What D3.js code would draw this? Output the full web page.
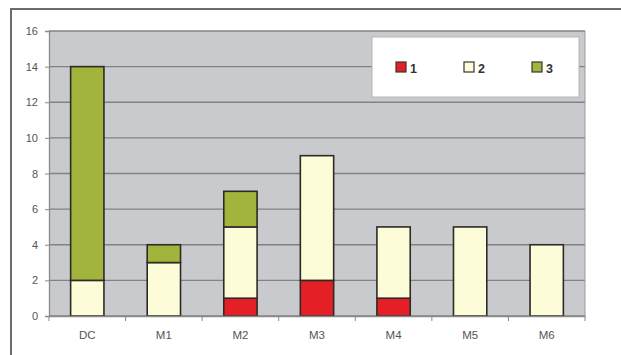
<!DOCTYPE html>
<html>
<head>
<meta charset="utf-8">
<script src="https://cdn.jsdelivr.net/npm/d3@7"></script>
<style>
  body { margin: 0; background: #fff; }
  text { font-family: "Liberation Sans", Arial, sans-serif; }
</style>
</head>
<body>
<div id="chart"></div>
<script>
var categories = ["DC", "M1", "M2", "M3", "M4", "M5", "M6"];
var seriesNames = ["1", "2", "3"];
var series1 = [0, 0, 1, 2, 1, 0, 0];
var series2 = [2, 3, 4, 7, 4, 5, 4];
var series3 = [12, 1, 2, 0, 0, 0, 0];
var yTicks = [0, 2, 4, 6, 8, 10, 12, 14, 16];
var colors = ["#e41f26", "#fdfcd8", "#a3b43c"];

var svgWidth = 621;
var svgHeight = 355;
var margin = {top: 31, right: 36, bottom: 39, left: 49};
var width = svgWidth - margin.left - margin.right;
var height = svgHeight - margin.top - margin.bottom;

var svg = d3.select("#chart")
    .append("svg")
    .attr("width", svgWidth)
    .attr("height", svgHeight);

// outer chart frame (runs off the picture on right and bottom)
svg.append("rect")
    .attr("x", 11)
    .attr("y", 9)
    .attr("width", 640)
    .attr("height", 360)
    .attr("fill", "#fff")
    .attr("stroke", "#6b6b6b")
    .attr("stroke-width", 2);

var chartGroup = svg.append("g")
    .attr("transform", `translate(${margin.left}, ${margin.top})`);

// build rows for the stack
var rows = categories.map(function(c, i) {
    return {cat: c, "1": series1[i], "2": series2[i], "3": series3[i]};
});
var stacked = d3.stack().keys(seriesNames)(rows);

var xScale = d3.scaleBand()
    .domain(categories)
    .range([0, width])
    .paddingInner(0.565)
    .paddingOuter(0.2825);

var yScale = d3.scaleLinear()
    .domain([0, 16])
    .range([height, 0]);

// plot background
chartGroup.append("rect")
    .attr("width", width)
    .attr("height", height)
    .attr("fill", "#c8cacd");

// gridlines
chartGroup.append("g")
    .selectAll("line")
    .data(yTicks)
    .enter()
    .append("line")
    .attr("x1", 0)
    .attr("x2", width)
    .attr("y1", d => yScale(d))
    .attr("y2", d => yScale(d))
    .attr("stroke", "#828282")
    .attr("stroke-width", 1.3);

// right edge of plot area
chartGroup.append("line")
    .attr("x1", width).attr("x2", width)
    .attr("y1", 0).attr("y2", height)
    .attr("stroke", "#9a9a9a")
    .attr("stroke-width", 1);

// bars
chartGroup.selectAll(".layer")
    .data(stacked)
    .enter()
    .append("g")
    .attr("class", "layer")
    .attr("fill", (d, i) => colors[i])
    .selectAll("rect")
    .data(d => d.filter(p => p[1] - p[0] > 0))
    .enter()
    .append("rect")
    .attr("x", d => xScale(d.data.cat))
    .attr("y", d => yScale(d[1]))
    .attr("width", xScale.bandwidth())
    .attr("height", d => yScale(d[0]) - yScale(d[1]))
    .attr("stroke", "#2e2a25")
    .attr("stroke-width", 1.6);

// y axis
var leftAxis = d3.axisLeft(yScale)
    .tickValues(yTicks)
    .tickSize(4)
    .tickPadding(7);
var yAxis = chartGroup.append("g").call(leftAxis);
yAxis.select(".domain").attr("stroke", "#8a8a8a").attr("stroke-width", 1.3);
yAxis.selectAll(".tick line").attr("stroke", "#8a8a8a");
yAxis.selectAll("text")
    .attr("font-size", 11)
    .attr("fill", "#555");

// x axis
var bottomAxis = d3.axisBottom(xScale).tickSize(0).tickPadding(15);
var xAxis = chartGroup.append("g")
    .attr("transform", `translate(0, ${height})`)
    .call(bottomAxis);
xAxis.select(".domain").attr("stroke", "#8a8a8a").attr("stroke-width", 1.3);
xAxis.selectAll("text")
    .attr("font-size", 11.5)
    .attr("fill", "#555");

// tick marks between categories
xAxis.selectAll(".sep")
    .data(d3.range(categories.length + 1))
    .enter()
    .append("line")
    .attr("class", "sep")
    .attr("x1", d => d * width / categories.length)
    .attr("x2", d => d * width / categories.length)
    .attr("y1", 0)
    .attr("y2", 5)
    .attr("stroke", "#8a8a8a");

// legend
var legend = svg.append("g")
    .attr("transform", "translate(372, 37)");
legend.append("rect")
    .attr("width", 207)
    .attr("height", 60)
    .attr("fill", "#fff")
    .attr("stroke", "#b5b5b5")
    .attr("stroke-width", 1);

var legendItems = legend.selectAll(".item")
    .data(seriesNames)
    .enter()
    .append("g")
    .attr("class", "item")
    .attr("transform", (d, i) => `translate(${24 + i * 68}, 25)`);

legendItems.append("rect")
    .attr("width", 10)
    .attr("height", 10)
    .attr("fill", (d, i) => colors[i])
    .attr("stroke", "#3a3530")
    .attr("stroke-width", 1.2);

legendItems.append("text")
    .attr("x", 14)
    .attr("y", 10.5)
    .attr("font-size", 12.5)
    .attr("font-weight", "bold")
    .attr("fill", "#333")
    .text(d => d);
</script>
</body>
</html>
